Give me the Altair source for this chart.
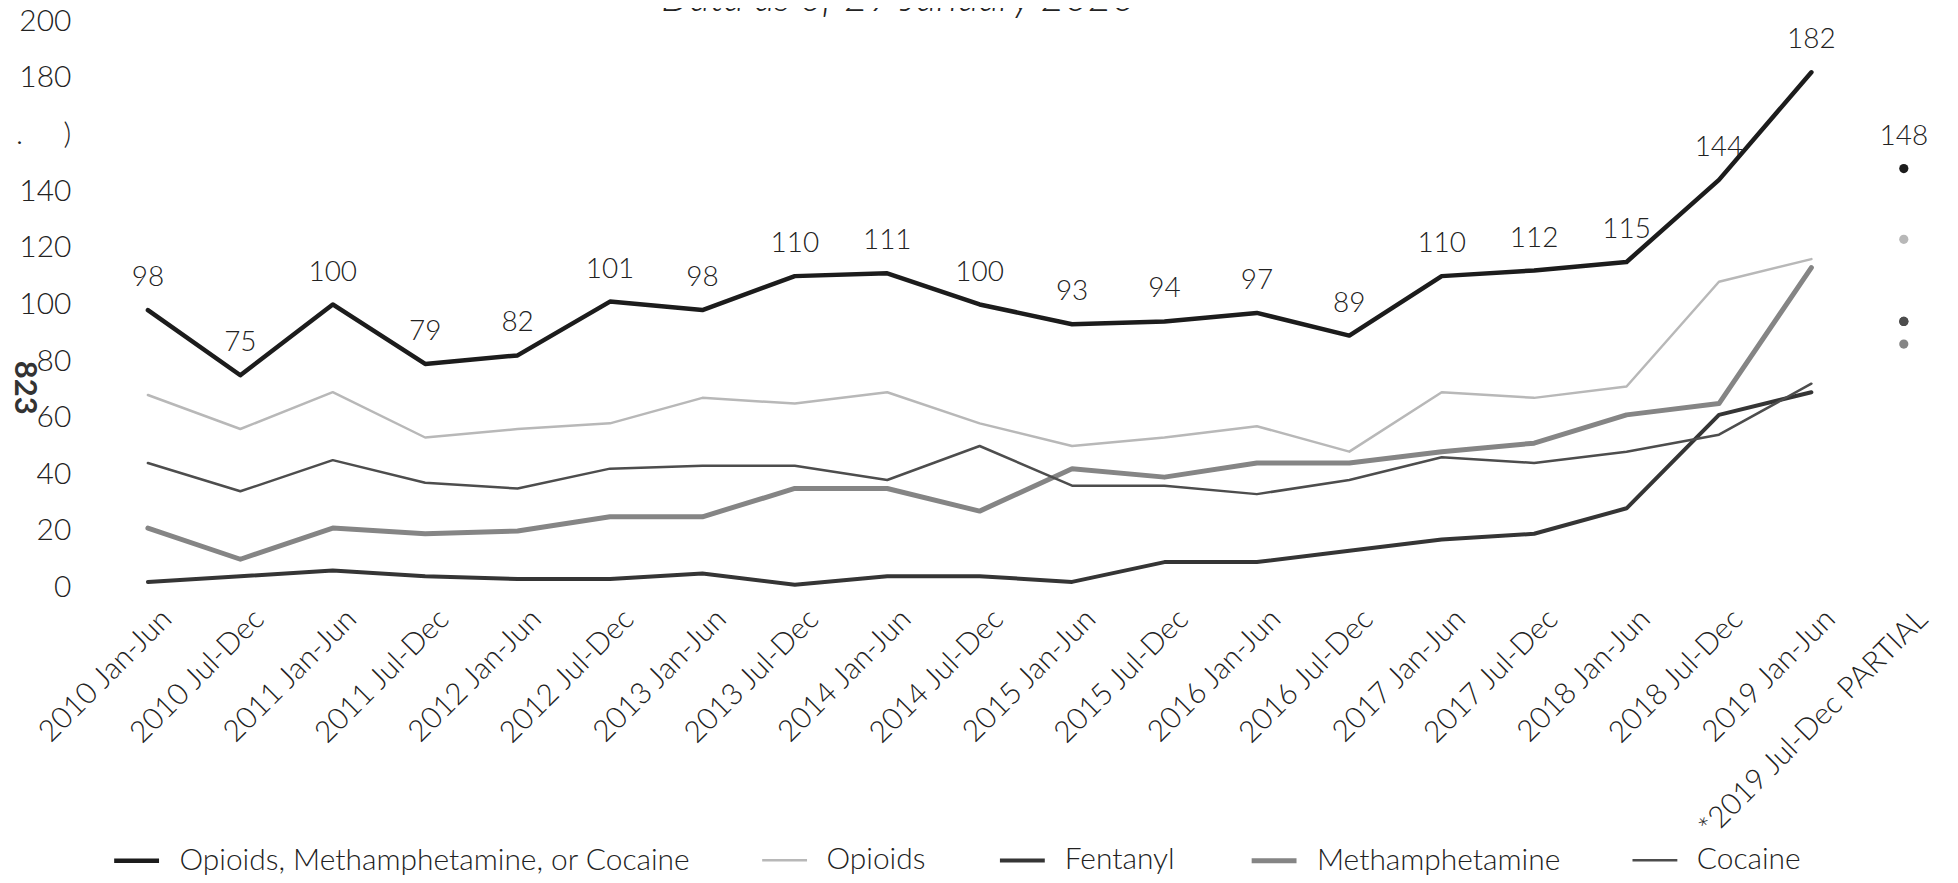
import altair as alt
import pandas as pd

FONT = "Lato"

periods = [
    "2010 Jan-Jun", "2010 Jul-Dec", "2011 Jan-Jun", "2011 Jul-Dec",
    "2012 Jan-Jun", "2012 Jul-Dec", "2013 Jan-Jun", "2013 Jul-Dec",
    "2014 Jan-Jun", "2014 Jul-Dec", "2015 Jan-Jun", "2015 Jul-Dec",
    "2016 Jan-Jun", "2016 Jul-Dec", "2017 Jan-Jun", "2017 Jul-Dec",
    "2018 Jan-Jun", "2018 Jul-Dec", "2019 Jan-Jun",
]
partial_period = "*2019 Jul-Dec PARTIAL"

series_names = [
    "Opioids, Methamphetamine, or Cocaine",
    "Opioids",
    "Fentanyl",
    "Methamphetamine",
    "Cocaine",
]

total = [98, 75, 100, 79, 82, 101, 98, 110, 111, 100, 93, 94, 97, 89, 110, 112, 115, 144, 182]
opioids = [68, 56, 69, 53, 56, 58, 67, 65, 69, 58, 50, 53, 57, 48, 69, 67, 71, 108, 116]
fentanyl = [2, 4, 6, 4, 3, 3, 5, 1, 4, 4, 2, 9, 9, 13, 17, 19, 28, 61, 69]
meth = [21, 10, 21, 19, 20, 25, 25, 35, 35, 27, 42, 39, 44, 44, 48, 51, 61, 65, 113]
cocaine = [44, 34, 45, 37, 35, 42, 43, 43, 38, 50, 36, 36, 33, 38, 46, 44, 48, 54, 72]

# partial half-year values (shown as dots): total, opioids, fentanyl, meth, cocaine
partial_values = [148, 123, 94, 86, 94]

series_colors = ["#1c1c1c", "#b8b8b8", "#353535", "#858585", "#4d4d4d"]
series_widths = [4.5, 2.5, 4, 5, 2.5]

y_ticks = list(range(0, 201, 20))

all_series = [total, opioids, fentanyl, meth, cocaine]
line_rows = []
for name, vals in zip(series_names, all_series):
    for p, v in zip(periods, vals):
        line_rows.append({"period": p, "series": name, "value": v})
df_lines = pd.DataFrame(line_rows)

df_partial = pd.DataFrame({
    "period": [partial_period] * len(series_names),
    "series": series_names,
    "value": partial_values,
})

df_labels = pd.DataFrame({
    "period": periods + [partial_period],
    "value": total + [partial_values[0]],
})

x_domain = periods + [partial_period]

x_enc = alt.X(
    "period:N",
    scale=alt.Scale(domain=x_domain),
    sort=x_domain,
    axis=alt.Axis(
        title=None, labelAngle=-45, labelAlign="right", labelBaseline="top",
        labelPadding=16, labelOffset=8, labelFontSize=30, labelFont=FONT,
        labelFontWeight=300, labelColor="#222222", labelLimit=600,
        labelOverlap=False, labelBound=False, labelFlush=False,
        domain=False, ticks=False, tickSize=0, grid=False,
    ),
)

label160 = ".\u00a0\u00a0\u00a0\u00a0\u00a0)"
y_enc = alt.Y(
    "value:Q",
    scale=alt.Scale(domain=[0, 200], nice=False),
    axis=alt.Axis(
        title="823", titleAngle=90, titleFontSize=31, titleFont=FONT,
        titleFontWeight="bold", titleColor="#333333", titleX=-78, titleY=367,
        titleAlign="center", titleBaseline="middle",
        values=y_ticks,
        labelExpr="datum.value == 160 ? '" + label160 + "' : datum.label",
        labelFontSize=30, labelFont=FONT, labelFontWeight=300, labelColor="#222222",
        labelPadding=31, domain=False, ticks=False, tickSize=0, grid=False,
    ),
)

legend = alt.Legend(
    title=None, orient="none", legendX=10, legendY=817, direction="horizontal",
    symbolType="stroke", symbolSize=2025, labelFontSize=30, labelFont=FONT,
    labelFontWeight=300, labelColor="#222222", labelLimit=800, labelOffset=18,
    columnPadding=66, padding=0,
)

color_scale = alt.Scale(domain=series_names, range=series_colors)

lines = alt.Chart(df_lines).mark_line(strokeJoin="round", strokeCap="round").encode(
    x=x_enc,
    y=y_enc,
    color=alt.Color("series:N", scale=color_scale, legend=legend),
    strokeWidth=alt.StrokeWidth(
        "series:N",
        scale=alt.Scale(type="ordinal", domain=series_names, range=series_widths),
        legend=legend,
    ),
)

points = alt.Chart(df_partial).mark_circle(size=85, opacity=1).encode(
    x=alt.X("period:N", scale=alt.Scale(domain=x_domain), sort=x_domain),
    y=alt.Y("value:Q"),
    color=alt.Color("series:N", scale=color_scale, legend=None),
)

labels = alt.Chart(df_labels).mark_text(
    dy=-32, fontSize=28, font=FONT, fontWeight=300, color="#222222", baseline="middle"
).encode(
    x=alt.X("period:N", scale=alt.Scale(domain=x_domain), sort=x_domain),
    y=alt.Y("value:Q"),
    text=alt.Text("value:Q"),
)

chart = alt.layer(lines, points, labels).properties(
    width=1854,
    height=568,
    autosize=alt.AutoSizeParams(type="none"),
    padding={"left": 94, "top": 12, "right": 0, "bottom": 295},
    title=alt.TitleParams(
        "Data as of 29 January 2020", fontStyle="italic", fontSize=41, font=FONT,
        fontWeight=300, color="#222222", anchor="middle", frame="group",
        dx=-128, dy=46, offset=0, baseline="alphabetic",
    ),
    background="white",
).configure_view(stroke=None)

chart.save("out.html", embed_options={"renderer": "svg", "actions": False})
